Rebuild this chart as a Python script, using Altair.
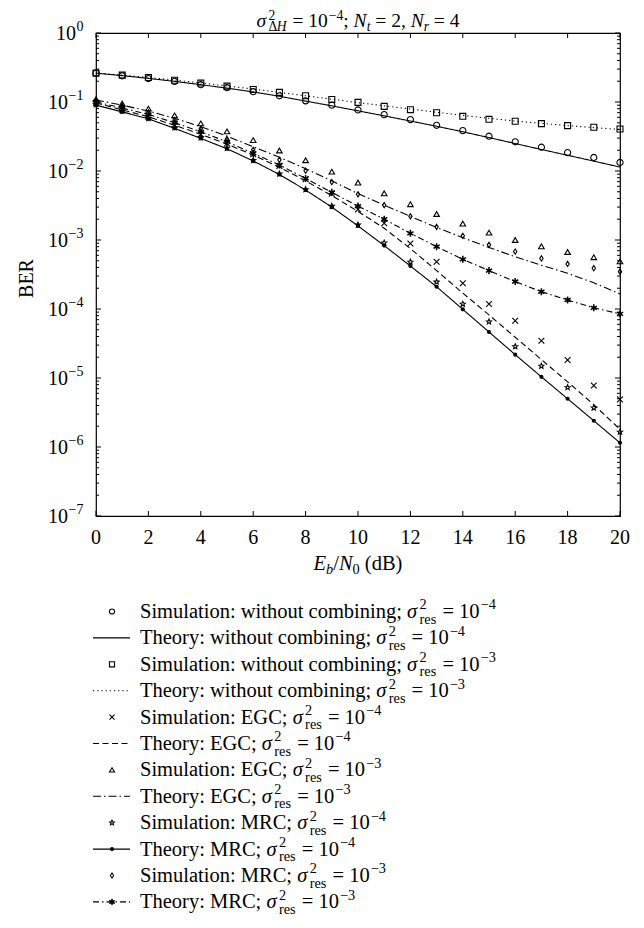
import altair as alt
import pandas as pd

# ---------------- data ----------------
snr = list(range(21))

sim_wo_4 = [0.262, 0.240, 0.219, 0.199, 0.178, 0.161, 0.141, 0.123, 0.104, 0.090, 0.0766, 0.0656, 0.0556, 0.0460, 0.0385, 0.0319, 0.0265, 0.0221, 0.0185, 0.0157, 0.0133]
th_wo_4 = [0.262, 0.241, 0.220, 0.199, 0.178, 0.159, 0.140, 0.121, 0.103, 0.088, 0.0745, 0.0630, 0.0530, 0.0445, 0.0370, 0.0305, 0.0250, 0.0205, 0.0169, 0.0139, 0.0114]
sim_wo_3 = [0.262, 0.245, 0.226, 0.207, 0.188, 0.170, 0.152, 0.138, 0.123, 0.109, 0.0988, 0.0865, 0.0774, 0.0700, 0.0620, 0.0561, 0.0525, 0.0486, 0.0455, 0.0430, 0.0407]
th_wo_3 = [0.262, 0.245, 0.227, 0.208, 0.189, 0.171, 0.154, 0.138, 0.123, 0.110, 0.0980, 0.0880, 0.0790, 0.0710, 0.0640, 0.0580, 0.0530, 0.0490, 0.0455, 0.0425, 0.0400]
sim_egc_4 = [0.097, 0.077, 0.061, 0.046, 0.034, 0.025, 0.0175, 0.0118, 0.0076, 0.0047, 0.00278, 0.00175, 0.00089, 0.000485, 0.000236, 0.000118, 6.77e-5, 3.47e-5, 1.82e-5, 7.8e-6, 4.9e-6]
th_egc_4 = [0.097, 0.077, 0.061, 0.046, 0.034, 0.0245, 0.0170, 0.0113, 0.0072, 0.0044, 0.0026, 0.00148, 0.00075, 0.00036, 0.00017, 8.2e-5, 3.9e-5, 1.85e-5, 8.8e-6, 4.1e-6, 1.8e-6]
sim_egc_3 = [0.110, 0.095, 0.080, 0.064, 0.049, 0.0375, 0.0280, 0.0198, 0.0143, 0.0098, 0.0068, 0.00475, 0.00330, 0.00238, 0.00173, 0.00128, 0.00100, 0.00081, 0.00067, 0.000563, 0.00049]
th_egc_3 = [0.107, 0.090, 0.074, 0.058, 0.044, 0.032, 0.0225, 0.0158, 0.0108, 0.0072, 0.0047, 0.0032, 0.0022, 0.00152, 0.00108, 0.00078, 0.00057, 0.00043, 0.00033, 0.00024, 0.000165]
sim_mrc_4 = [0.092, 0.074, 0.058, 0.0425, 0.0305, 0.0215, 0.0143, 0.0091, 0.0054, 0.0031, 0.00166, 0.00091, 0.00048, 0.000247, 0.000118, 6.55e-5, 2.86e-5, 1.49e-5, 7.3e-6, 3.7e-6, 1.65e-6]
th_mrc_4 = [0.090, 0.072, 0.057, 0.0415, 0.0297, 0.0210, 0.0140, 0.0089, 0.0053, 0.0030, 0.0016, 0.00083, 0.00042, 0.00021, 9.88e-5, 4.64e-5, 2.18e-5, 1.04e-5, 5.0e-6, 2.4e-6, 1.15e-6]
sim_mrc_3 = [0.105, 0.088, 0.071, 0.055, 0.041, 0.029, 0.0203, 0.0145, 0.0101, 0.0069, 0.0046, 0.0032, 0.0022, 0.00155, 0.00115, 0.00085, 0.00068, 0.00054, 0.00045, 0.00039, 0.000348]
th_mrc_3 = [0.100, 0.082, 0.066, 0.050, 0.037, 0.0265, 0.0180, 0.0122, 0.0078, 0.0049, 0.0031, 0.0020, 0.00125, 0.00080, 0.000525, 0.00036, 0.00025, 0.000178, 0.000135, 0.000104, 8.5e-5]

series_order = ["sim_wo_4", "th_wo_4", "sim_wo_3", "th_wo_3", "sim_egc_4", "th_egc_4",
                "sim_egc_3", "th_egc_3", "sim_mrc_4", "th_mrc_4", "sim_mrc_3", "th_mrc_3"]
series_values = [sim_wo_4, th_wo_4, sim_wo_3, th_wo_3, sim_egc_4, th_egc_4,
                 sim_egc_3, th_egc_3, sim_mrc_4, th_mrc_4, sim_mrc_3, th_mrc_3]

legend_prefix = ["Simulation: without combining; ", "Theory: without combining; ",
                 "Simulation: without combining; ", "Theory: without combining; ",
                 "Simulation: EGC; ", "Theory: EGC; ", "Simulation: EGC; ", "Theory: EGC; ",
                 "Simulation: MRC; ", "Theory: MRC; ", "Simulation: MRC; ", "Theory: MRC; "]
legend_exp = ["−4", "−4", "−3", "−3", "−4", "−4", "−3", "−3", "−4", "−4", "−3", "−3"]

x_ticks = [0, 2, 4, 6, 8, 10, 12, 14, 16, 18, 20]
y_decades = [0, -1, -2, -3, -4, -5, -6, -7]

# ---------------- styling ----------------
FONT = "Liberation Serif, Times New Roman, serif"
W, H = 524, 483

sim_names = ["sim_wo_4", "sim_wo_3", "sim_egc_4", "sim_egc_3", "sim_mrc_4", "sim_mrc_3"]
CROSS = "M-1,-1L1,1M-1,1L1,-1"
TRI = "M0,-0.85L1,0.85L-1,0.85Z"
STAR = ("M0,-1L0.265,-0.364L0.951,-0.309L0.428,0.139L0.588,0.809L0,0.45"
        "L-0.588,0.809L-0.428,0.139L-0.951,-0.309L-0.265,-0.364Z")
DIAM = "M0,-1L0.65,0L0,1L-0.65,0Z"
ASTER = "M0,-1L0,1M-0.87,-0.5L0.87,0.5M-0.87,0.5L0.87,-0.5"
sim_shapes = ["circle", "square", CROSS, TRI, STAR, DIAM]
sim_sizes = [38, 27, 24, 60, 64, 72]

th_names = ["th_wo_4", "th_wo_3", "th_egc_4", "th_egc_3", "th_mrc_4", "th_mrc_3"]
th_dash = [[1, 0], [1.2, 3], [6, 3.5], [8, 3, 1.5, 3], [1, 0], [6, 3, 1.5, 3]]

xs = alt.Scale(domain=[0, 20], nice=False)
ys = alt.Scale(type="log", domain=[1e-7, 1], nice=False)
X = alt.X("snr:Q", scale=xs, axis=None)
Y = alt.Y("ber:Q", scale=ys, axis=None)
SD = alt.StrokeDash("series:N", scale=alt.Scale(domain=th_names, range=th_dash), legend=None)
SH = alt.Shape("series:N", scale=alt.Scale(domain=sim_names, range=sim_shapes), legend=None)
SZ = alt.Size("series:N", scale=alt.Scale(domain=sim_names, range=sim_sizes), legend=None)

rows = []
for name, vals in zip(series_order, series_values):
    for s, v in zip(snr, vals):
        rows.append({"snr": s, "ber": v, "series": name})
df = pd.DataFrame(rows)

# ---------------- rich text composition ----------------
WN = {' ': 250, 'S': 556, 'i': 278, 'm': 778, 'u': 500, 'l': 278, 'a': 444, 't': 278, 'o': 500,
      'n': 500, ':': 278, ';': 278, 'w': 722, 'h': 500, 'c': 444, 'b': 500, 'g': 500, 'T': 611,
      'e': 444, 'r': 333, 'y': 500, 'E': 611, 'G': 722, 'C': 667, 'M': 889, 'R': 667, 'N': 722,
      'H': 722, 'Δ': 612, '=': 564, '−': 564, ',': 250, '(': 333, ')': 333, '/': 278, 'd': 500,
      'B': 667, 's': 389}
for d in "0123456789":
    WN[d] = 500
WI = dict(WN)
WI.update({'σ': 560, 'E': 611, 'N': 667, 'H': 722, 'b': 500, 't': 278, 'r': 389})


def tw(s, it, fs):
    tbl = WI if it else WN
    return sum(tbl.get(c, 500) for c in s) * fs / 1000.0


def compose(items, x0, y0, F, FS, anchor="left", up=0.42, down=0.27, sub=0.24):
    raw = []
    x = 0.0
    for item in items:
        kind = item[0]
        if kind == "b":
            s, it = item[1], item[2]
            raw.append((s, x, 0.0, F, it))
            x += tw(s, it, F)
        elif kind == "sup":
            s, it = item[1], item[2]
            x += 1.0
            raw.append((s, x, -up * F, FS, it))
            x += tw(s, it, FS)
        elif kind == "sub":
            s, it = item[1], item[2]
            raw.append((s, x, sub * F, FS, it))
            x += tw(s, it, FS)
        elif kind == "stack":
            x += 1.0
            w1 = 0.0
            for s, it in item[1]:
                raw.append((s, x + w1, -up * F, FS, it))
                w1 += tw(s, it, FS)
            w2 = 0.0
            for s, it in item[2]:
                raw.append((s, x + w2, down * F, FS, it))
                w2 += tw(s, it, FS)
            x += max(w1, w2) + 1.0
    shift = -x / 2 if anchor == "center" else 0.0
    out = []
    for s, px, py, fs, it in raw:
        lead = len(s) - len(s.lstrip(" "))
        txt = s.strip(" ")
        if not txt:
            continue
        out.append({"x": x0 + shift + px + tw(" " * lead, it, fs), "y": y0 + py, "text": txt,
                    "fs": fs, "it": bool(it)})
    return out


pieces = []
title_items = [("b", "σ", True), ("stack", [("2", False)], [("Δ", False), ("H", True)]),
               ("b", " = 10", False), ("sup", "−4", False), ("b", "; ", False),
               ("b", "N", True), ("sub", "t", True), ("b", " = 2, ", False),
               ("b", "N", True), ("sub", "r", True), ("b", " = 4", False)]
pieces += compose(title_items, W / 2, -6, 19.5, 13.6, anchor="center", up=0.36, down=0.22, sub=0.22)

xtitle_items = [("b", "E", True), ("sub", "b", True), ("b", "/", False), ("b", "N", True),
                ("sub", "0", False), ("b", " (dB)", False)]
pieces += compose(xtitle_items, W / 2, 536.5, 20.5, 14.3, anchor="center")

LEG_Y0, LEG_DY = 585.0, 26.4
leg_rows = []
for i, (name, pre, ex) in enumerate(zip(series_order, legend_prefix, legend_exp)):
    base = LEG_Y0 + LEG_DY * i
    items = [("b", pre, False), ("b", "σ", True), ("stack", [("2", False)], [("res", False)]),
             ("b", " = 10", False), ("sup", ex, False)]
    pieces += compose(items, 44, base, 20.5, 14.3)
    leg_rows.append({"series": name, "ly": base - 6.5})
pdf = pd.DataFrame(pieces)
pdf["cls"] = pdf["fs"].astype(str) + pdf["it"].map({True: "i", False: "n"})
leg = pd.DataFrame(leg_rows)

# ---------------- layers ----------------
layers = []

# data
layers.append(alt.Chart(df[df.series.isin(th_names)]).mark_line(color="black", strokeWidth=1.1)
              .encode(x=X, y=Y, strokeDash=SD))
layers.append(alt.Chart(df[df.series.isin(sim_names)])
              .mark_point(filled=False, color="black", strokeWidth=1.1, opacity=1)
              .encode(x=X, y=Y, shape=SH, size=SZ))
layers.append(alt.Chart(df[df.series == "th_mrc_4"])
              .mark_point(filled=True, shape="circle", size=17, color="black", opacity=1)
              .encode(x=X, y=Y))
layers.append(alt.Chart(df[df.series == "th_mrc_3"])
              .mark_point(filled=True, shape="circle", size=12, color="black", opacity=1)
              .encode(x=X, y=Y))
layers.append(alt.Chart(df[df.series == "th_mrc_3"])
              .mark_point(filled=False, shape=ASTER, size=50, strokeWidth=1.5, color="black", opacity=1)
              .encode(x=X, y=Y))

# ticks (inward on all four sides)
xt_df = pd.DataFrame({"t": x_ticks, "lab": [str(v) for v in x_ticks]})
yt_major = pd.DataFrame({"v": [10.0 ** k for k in y_decades]})
yt_minor = pd.DataFrame({"v": [m * 10.0 ** k for k in y_decades[1:] for m in range(2, 10)]})
TX = alt.X("t:Q", scale=xs, axis=None)
TY = alt.Y("v:Q", scale=ys, axis=None)
layers.append(alt.Chart(xt_df).mark_rule(color="black", strokeWidth=1)
              .encode(x=TX, y=alt.value(H), y2=alt.value(H - 5)))
layers.append(alt.Chart(xt_df).mark_rule(color="black", strokeWidth=1)
              .encode(x=TX, y=alt.value(0), y2=alt.value(5)))
for d, ln in ((yt_major, 5), (yt_minor, 3)):
    layers.append(alt.Chart(d).mark_rule(color="black", strokeWidth=1)
                  .encode(y=TY, x=alt.value(0), x2=alt.value(ln)))
    layers.append(alt.Chart(d).mark_rule(color="black", strokeWidth=1)
                  .encode(y=TY, x=alt.value(W), x2=alt.value(W - ln)))

# tick labels
layers.append(alt.Chart(xt_df).mark_text(align="center", baseline="alphabetic", font=FONT,
                                         fontSize=20, color="black")
              .encode(x=TX, y=alt.value(H + 27.5), text="lab:N"))
ylab = pd.DataFrame({"v": [10.0 ** k for k in y_decades], "k": y_decades,
                     "ten": ["10"] * len(y_decades),
                     "ex": ["0" if k == 0 else "−" + str(-k) for k in y_decades]})
w_e0 = tw("0", False, 14)
w_e1 = tw("−1", False, 14)
for cond, wexp in (("datum.k == 0", w_e0), ("datum.k < 0", w_e1)):
    xr = -13 - wexp
    layers.append(alt.Chart(ylab).transform_filter(cond)
                  .mark_text(align="right", baseline="alphabetic", font=FONT, fontSize=20,
                             dy=6.75, color="black")
                  .encode(x=alt.value(xr), y=alt.Y("v:Q", scale=ys, axis=None), text="ten:N"))
    layers.append(alt.Chart(ylab).transform_filter(cond)
                  .mark_text(align="left", baseline="alphabetic", font=FONT, fontSize=14,
                             dy=-1.75, color="black")
                  .encode(x=alt.value(xr + 0.5), y=alt.Y("v:Q", scale=ys, axis=None), text="ex:N"))

# y axis title
layers.append(alt.Chart(pd.DataFrame({"t": ["BER"]}))
              .mark_text(angle=270, align="center", baseline="middle", font=FONT, fontSize=20,
                         color="black")
              .encode(x=alt.value(-69), y=alt.value(H / 2 + 4), text="t:N"))

# composed texts (title, x title, legend labels)
for cls in sorted(pdf["cls"].unique()):
    sub_df = pdf[pdf["cls"] == cls]
    fs = float(sub_df["fs"].iloc[0])
    style = "italic" if bool(sub_df["it"].iloc[0]) else "normal"
    layers.append(alt.Chart(sub_df[["x", "y", "text"]])
                  .mark_text(align="left", baseline="alphabetic", font=FONT, fontSize=fs,
                             fontStyle=style, color="black")
                  .encode(x=alt.X("x:Q", scale=None), y=alt.Y("y:Q", scale=None), text="text:N"))

# legend symbols
leg_th = leg[leg.series.isin(th_names)]
leg_sim = leg[leg.series.isin(sim_names)]
layers.append(alt.Chart(leg_th).mark_rule(color="black", strokeWidth=1.1)
              .encode(x=alt.value(-3), x2=alt.value(34), y=alt.Y("ly:Q", scale=None), strokeDash=SD))
layers.append(alt.Chart(leg_sim).mark_point(filled=False, color="black", strokeWidth=1.1, opacity=1, size=26)
              .encode(x=alt.value(16), y=alt.Y("ly:Q", scale=None), shape=SH))
layers.append(alt.Chart(leg[leg.series == "th_mrc_4"])
              .mark_point(filled=True, shape="circle", size=17, color="black", opacity=1)
              .encode(x=alt.value(16), y=alt.Y("ly:Q", scale=None)))
layers.append(alt.Chart(leg[leg.series == "th_mrc_3"])
              .mark_point(filled=True, shape="circle", size=12, color="black", opacity=1)
              .encode(x=alt.value(16), y=alt.Y("ly:Q", scale=None)))
layers.append(alt.Chart(leg[leg.series == "th_mrc_3"])
              .mark_point(filled=False, shape=ASTER, size=40, strokeWidth=1.5, color="black", opacity=1)
              .encode(x=alt.value(16), y=alt.Y("ly:Q", scale=None)))

chart = (alt.layer(*layers)
         .properties(width=W, height=H,
                     padding={"left": 88, "top": 25, "right": 16, "bottom": 404},
                     autosize=alt.AutoSizeParams(type="none"))
         .configure_view(stroke="black", strokeWidth=1.2))

chart.save("out.html", embed_options={"renderer": "svg", "actions": False})
